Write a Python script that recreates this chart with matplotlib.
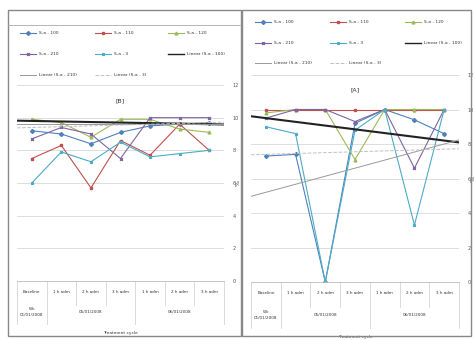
import numpy as np
import matplotlib
matplotlib.use('Agg')
import matplotlib.pyplot as plt
from matplotlib.lines import Line2D
from matplotlib.patches import Rectangle

cats = ['Baseline', '1 h adm', '2 h adm', '3 h adm', '1 h adm', '2 h adm', '3 h adm']
groups = ['Wk\n01/01/2008', '05/01/2008', '06/01/2008']
group_span = [(0, 1), (1, 4), (4, 7)]
names = ['S-a - 100', 'S-a - 110', 'S-a - 120', 'S-a - 210', 'S-a - 3']
colors = ['#4F81BD', '#C0504D', '#9BBB59', '#8064A2', '#4BACC6']
markers = ['D', 's', '^', 'x', '*']

# panel [B]
b_vals = [
    [9.2, 9.0, 8.4, 9.1, 9.5, 9.6, 9.7],
    [7.5, 8.3, 5.7, 8.6, 7.7, 9.6, 8.0],
    [9.9, 9.7, 8.8, 9.9, 9.9, 9.3, 9.1],
    [8.7, 9.4, 9.0, 7.5, 10.0, 10.0, 10.0],
    [6.0, 7.9, 7.3, 8.5, 7.6, 7.8, 8.0],
]
b_trend = [(9.8, 9.6), (9.6, 9.6), (9.4, 9.7)]

# panel [A]
a_vals = [
    [7.3, 7.4, 0.0, 9.2, 10.0, 9.4, 8.6],
    [10.0, 10.0, 10.0, 10.0, 10.0, 10.0, 10.0],
    [9.8, 10.0, 10.0, 7.1, 10.0, 10.0, 10.0],
    [9.5, 10.0, 10.0, 9.3, 10.0, 6.6, 10.0],
    [9.0, 8.6, 0.0, 8.8, 10.0, 3.3, 10.0],
]
a_trend = [(9.5, 8.2), (5.2, 8.0), (7.4, 7.7)]

trend_names = ['Linear (S-a - 100)', 'Linear (S-a - 210)', 'Linear (S-a - 3)']
trend_styles = [dict(color='#222222', lw=1.5, ls='-'),
                dict(color='#999999', lw=0.7, ls='-'),
                dict(color='#c0c0c0', lw=0.7, ls='--')]

W, H = 475, 340
fig = plt.figure(figsize=(W / 100, H / 100), dpi=100)
fig.patch.set_facecolor('white')

def px(x0, y0, x1, y1):
    return [x0 / W, 1 - y1 / H, (x1 - x0) / W, (y1 - y0) / H]

# chart frames
fig.patches.append(Rectangle((8 / W, 1 - 336 / H), 233 / W, 326 / H, transform=fig.transFigure,
                             fill=False, ec='#888888', lw=1.0))
fig.patches.append(Rectangle((242 / W, 1 - 336 / H), 229 / W, 326 / H, transform=fig.transFigure,
                             fill=False, ec='#888888', lw=1.0))
fig.lines.append(Line2D([8 / W, 241 / W], [1 - 25 / H] * 2, transform=fig.transFigure,
                        color='#aaaaaa', lw=0.6))

def panel(rect, vals, trends, title, title_y, legend_rows, legend_x):
    ax = fig.add_axes(rect)
    x = np.arange(len(cats))
    for v, c, m, n in zip(vals, colors, markers, names):
        ax.plot(x, v, color=c, marker=m, ms=2, lw=0.8, label=n)
    for (s, e), st, n in zip(trends, trend_styles, trend_names):
        ax.plot([-0.5, 6.5], [s - (e - s) / 12, e + (e - s) / 12], label=n, **st)
    ax.set_xlim(-0.5, 6.5)
    ax.set_ylim(0, 12)
    ax.set_yticks(range(0, 13, 2))
    ax.yaxis.tick_right()
    ax.tick_params(axis='y', labelsize=3.5, length=0, colors='#555555', pad=6)
    ax.set_xticks([])
    ax.grid(axis='y', color='#d8d8d8', lw=0.6)
    for sp in ax.spines.values():
        sp.set_visible(False)
    ax.text(0.5, title_y, title, transform=ax.transAxes,
            ha='center', va='center', fontsize=4.5, color='#333333')
    ax.text(1.07, 0.5, '%', transform=ax.transAxes, rotation=90, ha='center',
            va='center', fontsize=4.5, color='#333333')
    # category axis
    tr = ax.get_xaxis_transform()
    for i, c in enumerate(cats):
        ax.text(i, -0.055, c, transform=tr, ha='center', va='center', fontsize=3,
                color='#333333', clip_on=False)
    for b in range(8):
        low = -0.12 if b not in (0, 1, 4, 7) else -0.22
        ax.plot([b - 0.5] * 2, [0, low], transform=tr, color='#cccccc', lw=0.5, clip_on=False)
    ax.plot([-0.5, 6.5], [0, 0], transform=tr, color='#bbbbbb', lw=0.6, clip_on=False)
    for g, (a, b) in zip(groups, group_span):
        ax.text((a + b - 1) / 2, -0.16, g, transform=tr, ha='center', va='center',
                fontsize=3, color='#333333', clip_on=False, linespacing=1.6)
    ax.text(3, -0.265, 'Treatment cycle', transform=tr, ha='center', va='center',
            fontsize=3.2, color='#333333', clip_on=False)
    # legend
    handles, labels = ax.get_legend_handles_labels()
    for k, (h, l) in enumerate(zip(handles, labels)):
        r, cidx = divmod(k, 3)
        xx = legend_x[cidx]
        yy = legend_rows[r]
        hl = Line2D([xx / W, (xx + 8) / W, (xx + 16) / W], [1 - yy / H] * 3, transform=fig.transFigure,
                    color=h.get_color(), lw=min(h.get_linewidth(), 1.0), ls=h.get_linestyle(),
                    marker=h.get_marker(), markevery=[1], ms=2)
        fig.lines.append(hl)
        fig.text((xx + 19) / W, 1 - yy / H, l, fontsize=3.2, va='center', ha='left', color='#333333')
    return ax

panel(px(17, 85, 224, 281), b_vals, b_trend, '[B]', 0.92, [33, 54, 75], [20, 95, 168])
panel(px(251, 75, 459, 282), a_vals, a_trend, '[A]', 0.93, [22, 43, 63], [255, 330, 405])

fig.savefig('out.png', dpi=100, facecolor='white')
